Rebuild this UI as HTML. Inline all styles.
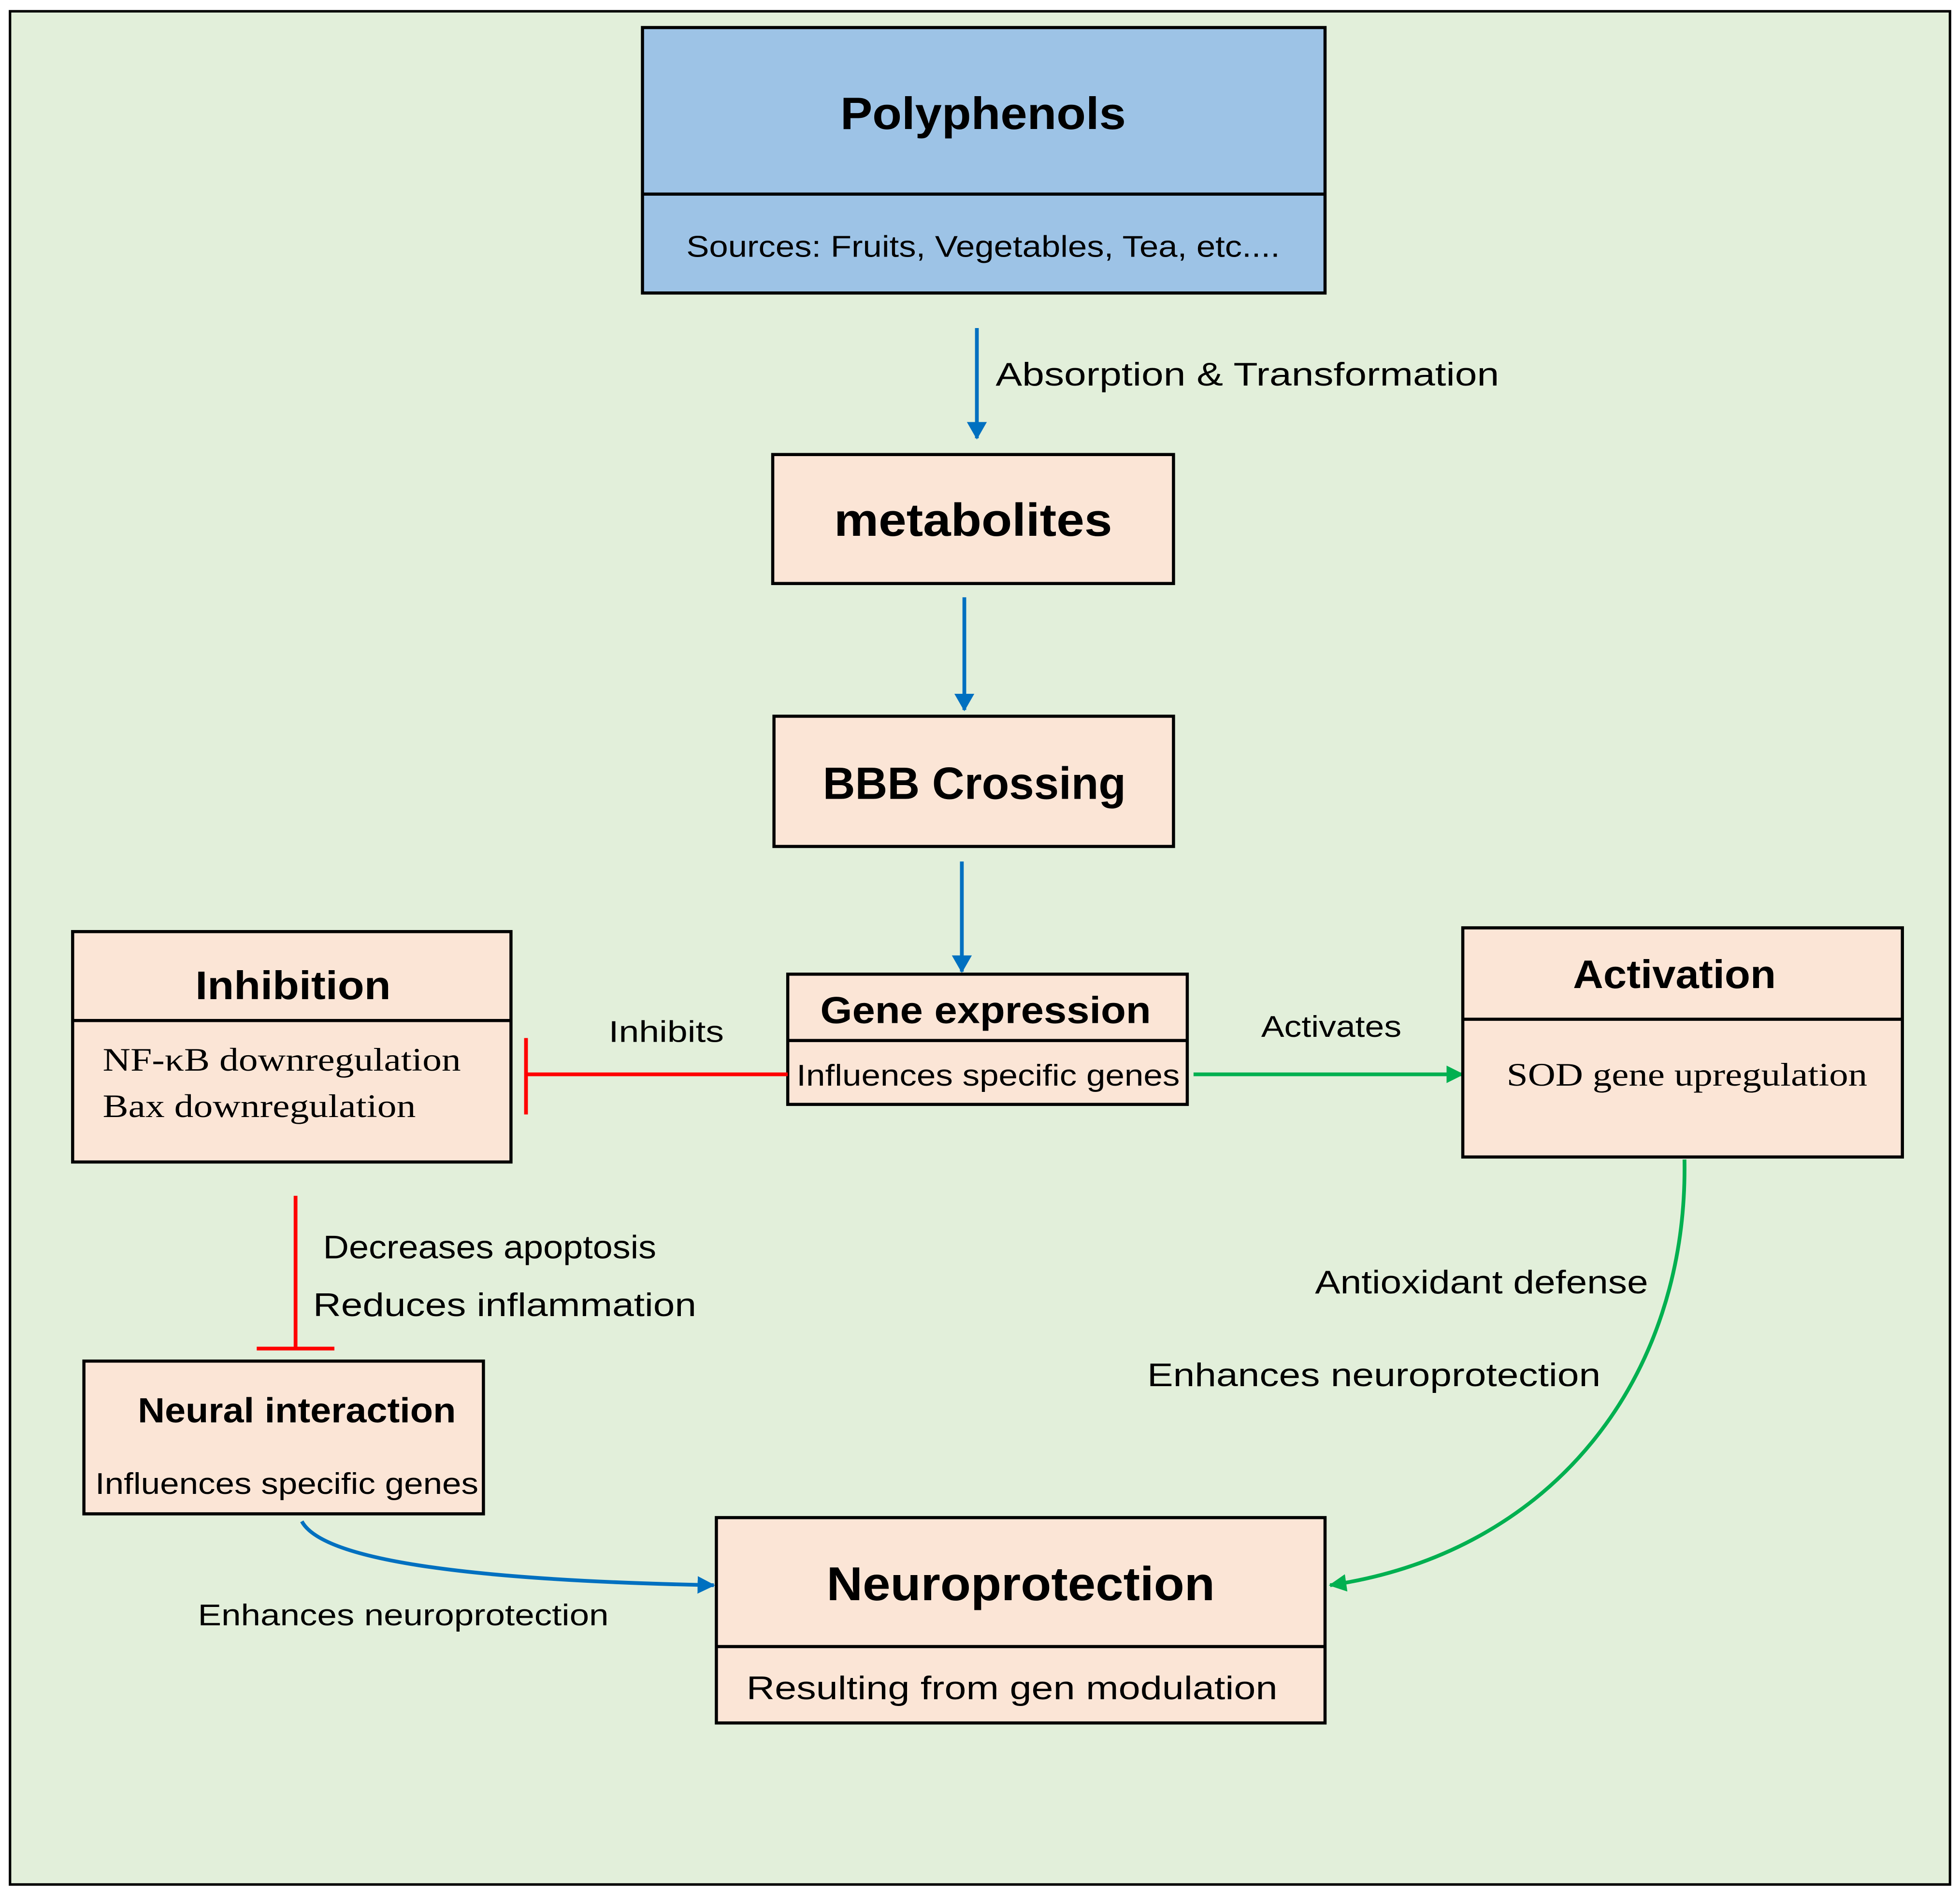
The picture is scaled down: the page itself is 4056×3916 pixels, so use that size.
<!DOCTYPE html>
<html><head><meta charset="utf-8"><style>
html,body{margin:0;padding:0;background:#fff;}
svg{display:block;}
text{font-family:"Liberation Sans",sans-serif;fill:#000;}
.s{font-family:"Liberation Serif",serif;}
</style></head><body>
<svg width="4056" height="3916" viewBox="0 0 1565 1511" preserveAspectRatio="none" xmlns="http://www.w3.org/2000/svg">
<defs>
<marker id="ab" markerWidth="14" markerHeight="16" refX="13" refY="8" orient="auto" markerUnits="userSpaceOnUse" viewBox="0 0 14 16"><path d="M0,0 L14,8 L0,16 Z" fill="#0070c0"/></marker>
<marker id="ag" markerWidth="14" markerHeight="14" refX="13" refY="7" orient="auto" markerUnits="userSpaceOnUse" viewBox="0 0 14 14"><path d="M0,0 L14,7 L0,14 Z" fill="#00b050"/></marker>
<marker id="ab2" markerWidth="14" markerHeight="14" refX="13" refY="7" orient="auto" markerUnits="userSpaceOnUse" viewBox="0 0 14 14"><path d="M0,0 L14,7 L0,14 Z" fill="#0070c0"/></marker>
</defs>
<rect x="8" y="9" width="1549" height="1496" fill="#e2efda" stroke="#000" stroke-width="2"/>

<rect x="513" y="22" width="545" height="212" fill="#9dc3e6" stroke="#000" stroke-width="2.5"/>
<line x1="513" y1="155" x2="1058" y2="155" stroke="#000" stroke-width="2.5"/>
<text x="785" y="103" font-size="36" font-weight="bold" text-anchor="middle" textLength="228" lengthAdjust="spacingAndGlyphs">Polyphenols</text>
<text x="785" y="205" font-size="24" text-anchor="middle" textLength="474" lengthAdjust="spacingAndGlyphs">Sources: Fruits, Vegetables, Tea, etc....</text>

<line x1="780" y1="262" x2="780" y2="350" stroke="#0070c0" stroke-width="3" marker-end="url(#ab)"/>
<text x="795" y="308" font-size="26" textLength="402" lengthAdjust="spacingAndGlyphs">Absorption &amp; Transformation</text>

<rect x="617" y="363" width="320" height="103" fill="#fbe5d6" stroke="#000" stroke-width="2.5"/>
<text x="777" y="428" font-size="37" font-weight="bold" text-anchor="middle" textLength="222" lengthAdjust="spacingAndGlyphs">metabolites</text>
<line x1="770" y1="477" x2="770" y2="567" stroke="#0070c0" stroke-width="3" marker-end="url(#ab)"/>

<rect x="618" y="572" width="319" height="104" fill="#fbe5d6" stroke="#000" stroke-width="2.5"/>
<text x="778" y="638" font-size="36" font-weight="bold" text-anchor="middle" textLength="242" lengthAdjust="spacingAndGlyphs">BBB Crossing</text>
<line x1="768" y1="688" x2="768" y2="776" stroke="#0070c0" stroke-width="3" marker-end="url(#ab)"/>

<rect x="629" y="778" width="319" height="104" fill="#fbe5d6" stroke="#000" stroke-width="2.5"/>
<line x1="629" y1="831" x2="948" y2="831" stroke="#000" stroke-width="2.5"/>
<text x="787" y="817" font-size="30" font-weight="bold" text-anchor="middle" textLength="264" lengthAdjust="spacingAndGlyphs">Gene expression</text>
<text x="789" y="867" font-size="24" text-anchor="middle" textLength="306" lengthAdjust="spacingAndGlyphs">Influences specific genes</text>

<rect x="58" y="744" width="350" height="184" fill="#fbe5d6" stroke="#000" stroke-width="2.5"/>
<line x1="58" y1="815" x2="408" y2="815" stroke="#000" stroke-width="2.5"/>
<text x="234" y="798" font-size="32" font-weight="bold" text-anchor="middle" textLength="156" lengthAdjust="spacingAndGlyphs">Inhibition</text>
<text class="s" x="82" y="855" font-size="26" textLength="286" lengthAdjust="spacingAndGlyphs">NF-κB downregulation</text>
<text class="s" x="82" y="892" font-size="26" textLength="250" lengthAdjust="spacingAndGlyphs">Bax downregulation</text>

<line x1="629" y1="858" x2="420" y2="858" stroke="#ff0000" stroke-width="3"/>
<line x1="420" y1="829" x2="420" y2="890" stroke="#ff0000" stroke-width="3"/>
<text x="532" y="832" font-size="24" text-anchor="middle" textLength="92" lengthAdjust="spacingAndGlyphs">Inhibits</text>

<line x1="953" y1="858" x2="1168" y2="858" stroke="#00b050" stroke-width="3" marker-end="url(#ag)"/>
<text x="1063" y="828" font-size="24" text-anchor="middle" textLength="112" lengthAdjust="spacingAndGlyphs">Activates</text>

<rect x="1168" y="741" width="351" height="183" fill="#fbe5d6" stroke="#000" stroke-width="2.5"/>
<line x1="1168" y1="814" x2="1519" y2="814" stroke="#000" stroke-width="2.5"/>
<text x="1337" y="789" font-size="32" font-weight="bold" text-anchor="middle" textLength="162" lengthAdjust="spacingAndGlyphs">Activation</text>
<text class="s" x="1347" y="867" font-size="26" text-anchor="middle" textLength="288" lengthAdjust="spacingAndGlyphs">SOD gene upregulation</text>

<line x1="236" y1="955" x2="236" y2="1077" stroke="#ff0000" stroke-width="3"/>
<line x1="205" y1="1077" x2="267" y2="1077" stroke="#ff0000" stroke-width="3"/>
<text x="258" y="1005" font-size="26" textLength="266" lengthAdjust="spacingAndGlyphs">Decreases apoptosis</text>
<text x="250" y="1051" font-size="26" textLength="306" lengthAdjust="spacingAndGlyphs">Reduces inflammation</text>

<rect x="67" y="1087" width="319" height="122" fill="#fbe5d6" stroke="#000" stroke-width="2.5"/>
<text x="237" y="1136" font-size="28" font-weight="bold" text-anchor="middle" textLength="254" lengthAdjust="spacingAndGlyphs">Neural interaction</text>
<text x="229" y="1193" font-size="24" text-anchor="middle" textLength="306" lengthAdjust="spacingAndGlyphs">Influences specific genes</text>

<path d="M241,1215 Q265,1260 570,1266" fill="none" stroke="#0070c0" stroke-width="3" marker-end="url(#ab2)"/>
<text x="158" y="1298" font-size="24" textLength="328" lengthAdjust="spacingAndGlyphs">Enhances neuroprotection</text>

<rect x="572" y="1212" width="486" height="164" fill="#fbe5d6" stroke="#000" stroke-width="2.5"/>
<line x1="572" y1="1315" x2="1058" y2="1315" stroke="#000" stroke-width="2.5"/>
<text x="815" y="1278" font-size="38" font-weight="bold" text-anchor="middle" textLength="310" lengthAdjust="spacingAndGlyphs">Neuroprotection</text>
<text x="808" y="1357" font-size="26" text-anchor="middle" textLength="424" lengthAdjust="spacingAndGlyphs">Resulting from gen modulation</text>

<path d="M1345,926 C1348,1100 1240,1240 1062,1266" fill="none" stroke="#00b050" stroke-width="3" marker-end="url(#ag)"/>
<text x="1050" y="1033" font-size="26" textLength="266" lengthAdjust="spacingAndGlyphs">Antioxidant defense</text>
<text x="916" y="1107" font-size="26" textLength="362" lengthAdjust="spacingAndGlyphs">Enhances neuroprotection</text>
</svg>
</body></html>
